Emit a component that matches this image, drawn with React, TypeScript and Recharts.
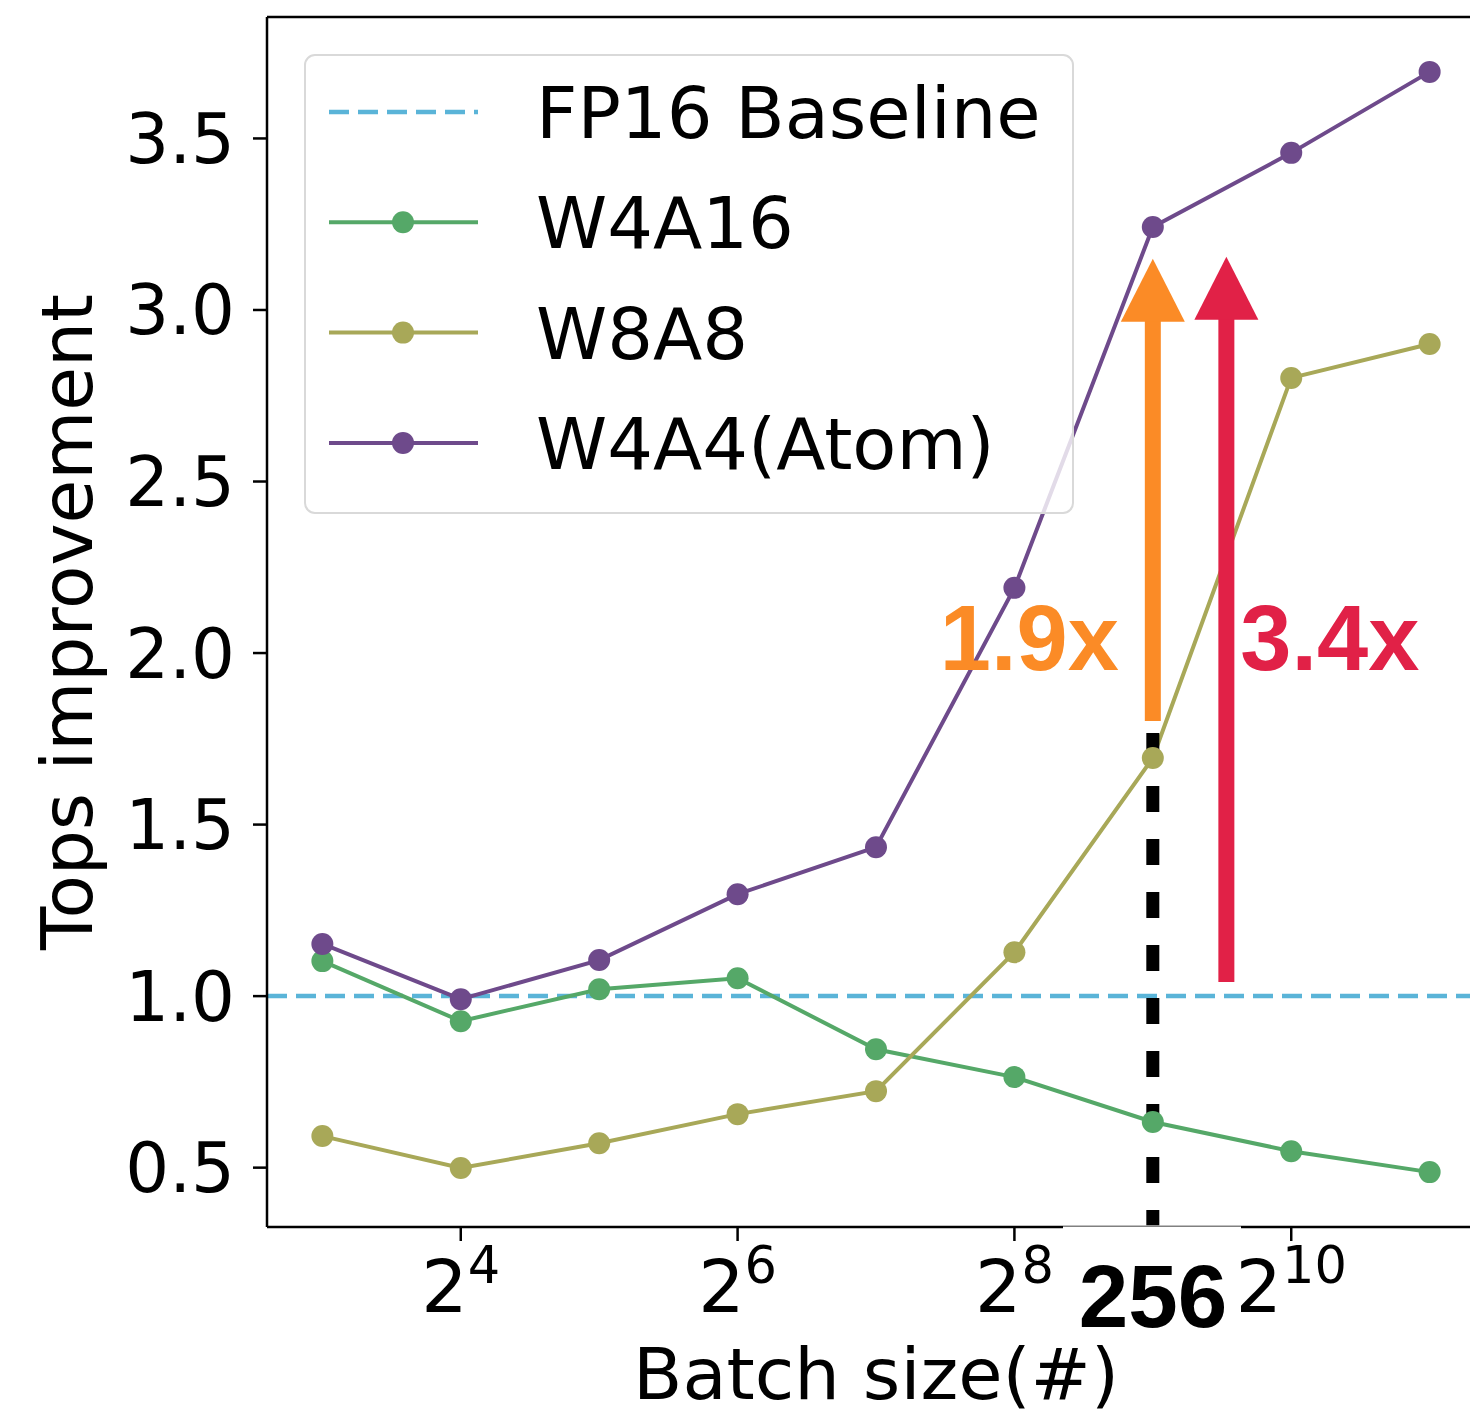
import React from "react";
import { LineChart, Line, XAxis, YAxis, ReferenceLine, ReferenceDot } from "recharts";

// batch sizes (x) and Tops improvement per config
const BATCH_SIZES = [8, 16, 32, 64, 128, 256, 512, 1024, 2048];
const W4A16 = [1.102, 0.927, 1.02, 1.052, 0.845, 0.764, 0.633, 0.548, 0.487];
const W8A8 = [0.592, 0.499, 0.571, 0.656, 0.723, 1.128, 1.694, 2.802, 2.901];
const W4A4_ATOM = [1.152, 0.991, 1.105, 1.297, 1.434, 2.19, 3.242, 3.458, 3.694];
const FP16_BASELINE = 1.0;

const X_TICKS = [16, 64, 256, 1024];
const Y_TICKS = [0.5, 1.0, 1.5, 2.0, 2.5, 3.0, 3.5];
const X_DOMAIN = [Math.pow(2, 2.6), Math.pow(2, 11.4)];
const Y_DOMAIN = [0.327, 3.854];

// annotation anchors (x in batch units, y in Tops)
const MARK_X = 512;
const RED_X = 740;

const FONT = "DejaVu Sans";
const BOLD_FONT = "Liberation Sans";

const GREEN = "#55a868";
const OLIVE = "#a8a858";
const PURPLE = "#6e4a8b";
const CYAN = "#5ab4d8";
const ORANGE = "#fb8b26";
const RED = "#e12147";

const rows = BATCH_SIZES.map((b, i) => ({
    batch: b,
    w4a16: W4A16[i],
    w8a8: W8A8[i],
    atom: W4A4_ATOM[i],
}));

const legendItems = [
    { label: "FP16 Baseline", color: CYAN, dashed: true },
    { label: "W4A16", color: GREEN, dashed: false },
    { label: "W8A8", color: OLIVE, dashed: false },
    { label: "W4A4(Atom)", color: PURPLE, dashed: false },
];

const XTick = (props: any) => {
    const { x, y, payload } = props;
    const exp = Math.round(Math.log2(payload.value));
    return (
        <text x={x} y={y + 69} textAnchor="middle" fontFamily={FONT} fontSize={73} fill="#000">
            <tspan>2</tspan>
            <tspan dy={-29} fontSize={51}>{exp}</tspan>
        </text>
    );
};

const yLabel = (p: any) => {
    const vb = p.viewBox;
    const cx = vb.x + 92;
    const cy = vb.y + vb.height / 2;
    return (
        <text x={cx} y={cy} transform={`rotate(-90, ${cx}, ${cy})`} textAnchor="middle"
            fontFamily={FONT} fontSize={71} fill="#000">
            Tops improvement
        </text>
    );
};

const xLabel = (p: any) => {
    const vb = p.viewBox;
    return (
        <text x={vb.x + vb.width / 2} y={vb.y + 172} textAnchor="middle"
            fontFamily={FONT} fontSize={72} fill="#000">
            Batch size(#)
        </text>
    );
};

// upward arrow drawn along a reference segment
const arrowShape = (color: string) => (p: any) => {
    const x = p.x1;
    const tip = Math.min(p.y1, p.y2);
    const base = Math.max(p.y1, p.y2);
    const headLen = 63;
    const half = 32;
    return (
        <g>
            <line x1={x} y1={base} x2={x} y2={tip + headLen - 1} stroke={color} strokeWidth={16} />
            <polygon points={`${x},${tip} ${x - half},${tip + headLen} ${x + half},${tip + headLen}`} fill={color} />
        </g>
    );
};

const ratioText = (text: string, color: string, dx: number, anchor: string) => (p: any) => (
    <text x={p.cx + dx} y={p.cy} textAnchor={anchor} fontFamily={BOLD_FONT} fontWeight="bold"
        fontSize={92} fill={color}>
        {text}
    </text>
);

const dot = (color: string) => ({ r: 11, fill: color, stroke: color, strokeWidth: 0 });

export default function App() {
    return (
        <div style={{ position: "absolute", left: 0, top: 0, width: 1470, height: 1415, overflow: "hidden", background: "#fff" }}>
            <LineChart width={1500} height={1415} data={rows} margin={{ top: 17, right: 15, bottom: 0, left: 0 }}>
                <XAxis
                    dataKey="batch"
                    type="number"
                    scale="log"
                    domain={X_DOMAIN}
                    allowDataOverflow
                    ticks={X_TICKS}
                    interval={0}
                    tick={<XTick />}
                    tickSize={14}
                    tickMargin={2}
                    height={188}
                    axisLine={{ stroke: "#000", strokeWidth: 2.5 }}
                    tickLine={{ stroke: "#000", strokeWidth: 2.5 }}
                    label={xLabel}
                />
                <YAxis
                    type="number"
                    domain={Y_DOMAIN}
                    allowDataOverflow
                    ticks={Y_TICKS}
                    interval={0}
                    width={267}
                    tickSize={14}
                    tickMargin={18}
                    tickFormatter={(v: number) => v.toFixed(1)}
                    tick={{ fill: "#000", fontSize: 69, fontFamily: FONT }}
                    axisLine={{ stroke: "#000", strokeWidth: 2.5 }}
                    tickLine={{ stroke: "#000", strokeWidth: 2.5 }}
                    label={yLabel}
                />
                <ReferenceLine y={Y_DOMAIN[1]} stroke="#000" strokeWidth={2.5} ifOverflow="visible" />
                <ReferenceLine y={FP16_BASELINE} stroke={CYAN} strokeWidth={4.5} strokeDasharray="20 9" />

                <Line dataKey="w4a16" stroke={GREEN} strokeWidth={4} dot={dot(GREEN)} activeDot={false} isAnimationActive={false} />
                <Line dataKey="w8a8" stroke={OLIVE} strokeWidth={4} dot={dot(OLIVE)} activeDot={false} isAnimationActive={false} />
                <Line dataKey="atom" stroke={PURPLE} strokeWidth={4} dot={dot(PURPLE)} activeDot={false} isAnimationActive={false} />

                {/* annotations */}
                <ReferenceLine segment={[{ x: MARK_X, y: 1.767 }, { x: MARK_X, y: 0.332 }]} stroke="#000" strokeWidth={13} strokeDasharray="26 27" />
                <ReferenceLine segment={[{ x: MARK_X, y: 1.802 }, { x: MARK_X, y: 3.149 }]} shape={arrowShape(ORANGE)} />
                <ReferenceLine segment={[{ x: RED_X, y: 1.041 }, { x: RED_X, y: 3.155 }]} shape={arrowShape(RED)} />
                <ReferenceDot x={MARK_X} y={1.95} shape={ratioText("1.9x", ORANGE, -34, "end")} />
                <ReferenceDot x={RED_X} y={1.95} shape={ratioText("3.4x", RED, 14, "start")} />
            </LineChart>

            <svg width={1470} height={1415} style={{ position: "absolute", left: 0, top: 0, pointerEvents: "none" }}>
                {/* legend */}
                <g transform="translate(304,54)">
                    <rect x={1} y={1} width={768} height={458} rx={10} fill="rgba(255,255,255,0.8)" stroke="#d9d9d9" strokeWidth={2} />
                    {legendItems.map((it, i) => {
                        const cy = 58 + i * 110.3;
                        return (
                            <g key={it.label}>
                                <line x1={25} y1={cy} x2={174} y2={cy} stroke={it.color}
                                    strokeWidth={it.dashed ? 4.5 : 4} strokeDasharray={it.dashed ? "20 9" : undefined} />
                                {!it.dashed && <circle cx={99} cy={cy} r={11} fill={it.color} />}
                                <text x={232} y={cy + 26} fontFamily={FONT} fontSize={72} fill="#000">{it.label}</text>
                            </g>
                        );
                    })}
                </g>
                {/* 256 marker below the axis */}
                <rect x={1063} y={1226.5} width={178} height={115} fill="#fff" />
                <text x={1153} y={1327} textAnchor="middle" fontFamily={BOLD_FONT} fontWeight="bold" fontSize={89} fill="#000">256</text>
            </svg>
        </div>
    );
}
